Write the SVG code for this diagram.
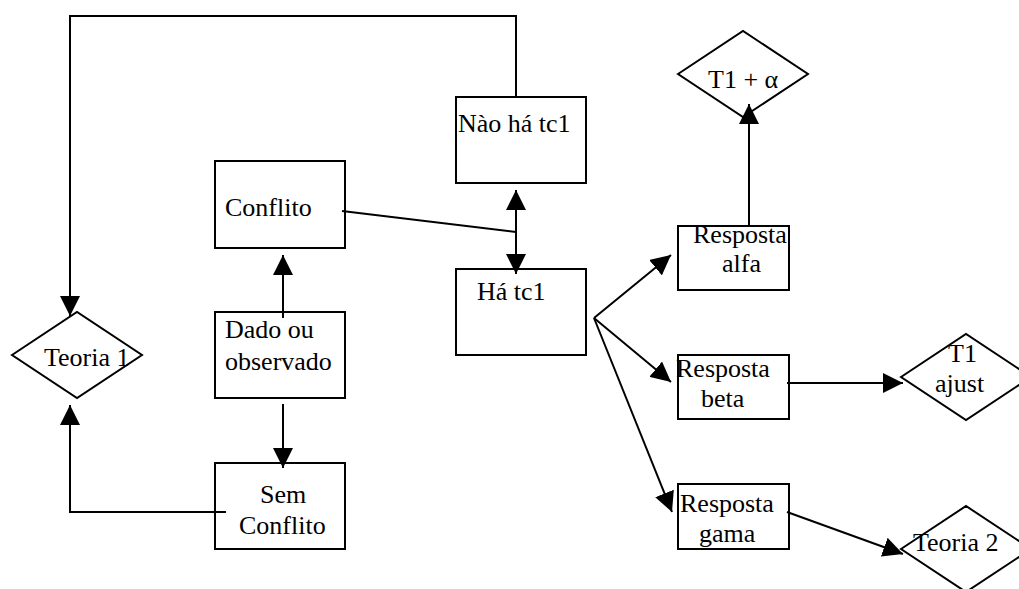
<svg xmlns="http://www.w3.org/2000/svg" width="1019" height="589" viewBox="0 0 1019 589">
<style>
.box{fill:#fff;stroke:#000;stroke-width:2}
.dia{fill:#fff;stroke:#000;stroke-width:2}
.t{font-family:"Liberation Serif","Times New Roman",serif;font-size:26px;fill:#000}
.c{fill:none;stroke:#000;stroke-width:2}
</style>
<defs>
<marker id="ah" markerUnits="userSpaceOnUse" markerWidth="20" markerHeight="20" refX="20" refY="10" orient="auto-start-reverse" viewBox="0 0 20 20">
<path d="M0,0 L20,10 L0,20 z" fill="#000"/>
</marker>
</defs>
<g id="nao"><rect class="box" x="456" y="97" width="130" height="86"/><text class="t" x="458" y="132">Nào há tc1</text></g>
<g id="ha"><rect class="box" x="456" y="269" width="130" height="86"/><text class="t" x="477" y="300">Há tc1</text></g>
<g id="conflito"><rect class="box" x="215" y="161" width="130" height="87"/><text class="t" x="225" y="216">Conflito</text></g>
<g id="dado"><rect class="box" x="215" y="312" width="130" height="86"/><text class="t" x="225" y="338">Dado ou</text><text class="t" x="225" y="370">observado</text></g>
<g id="sem"><rect class="box" x="215" y="463" width="130" height="86"/><text class="t" x="260" y="503">Sem</text><text class="t" x="239" y="534">Conflito</text></g>
<g id="teoria1"><polygon class="dia" points="12,355 77,312 142,355 77,398"/><text class="t" x="44" y="366">Teoria 1</text></g>
<g id="alfa"><rect class="box" x="678" y="226" width="111" height="64"/><text class="t" x="693" y="243">Resposta</text><text class="t" x="722" y="272">alfa</text></g>
<g id="beta"><rect class="box" x="678" y="355" width="111" height="64"/><text class="t" x="676" y="377">Resposta</text><text class="t" x="701" y="407">beta</text></g>
<g id="gama"><rect class="box" x="678" y="484" width="111" height="65"/><text class="t" x="680" y="512">Resposta</text><text class="t" x="699" y="542">gama</text></g>
<g id="t1alfa"><polygon class="dia" points="678,74 743,31 808,74 743,117"/><text class="t" x="708" y="88">T1 + α</text></g>
<g id="t1ajust"><polygon class="dia" points="901,377 966,334 1031,377 966,420"/><text class="t" x="948" y="362">T1</text><text class="t" x="935" y="392">ajust</text></g>
<g id="teoria2"><polygon class="dia" points="901,549 966,506 1031,549 966,592"/><text class="t" x="913" y="551">Teoria 2</text></g>
<g id="connectors">
<path class="c" d="M516,97 V16 H70 V316" marker-end="url(#ah)"/>
<path class="c" d="M342,211 L516,232"/>
<path class="c" d="M516,190 V274" marker-start="url(#ah)" marker-end="url(#ah)"/>
<path class="c" d="M283,318 V255" marker-end="url(#ah)"/>
<path class="c" d="M283,404 V468" marker-end="url(#ah)"/>
<path class="c" d="M226,512 H70 V405" marker-end="url(#ah)"/>
<path class="c" d="M594,318 L671,255" marker-end="url(#ah)"/>
<path class="c" d="M594,318 L671,382" marker-end="url(#ah)"/>
<path class="c" d="M594,318 L672,512" marker-end="url(#ah)"/>
<path class="c" d="M749,226 V104" marker-end="url(#ah)"/>
<path class="c" d="M787,383 H903" marker-end="url(#ah)"/>
<path class="c" d="M787,512 L903,554" marker-end="url(#ah)"/>
</g>
</svg>
